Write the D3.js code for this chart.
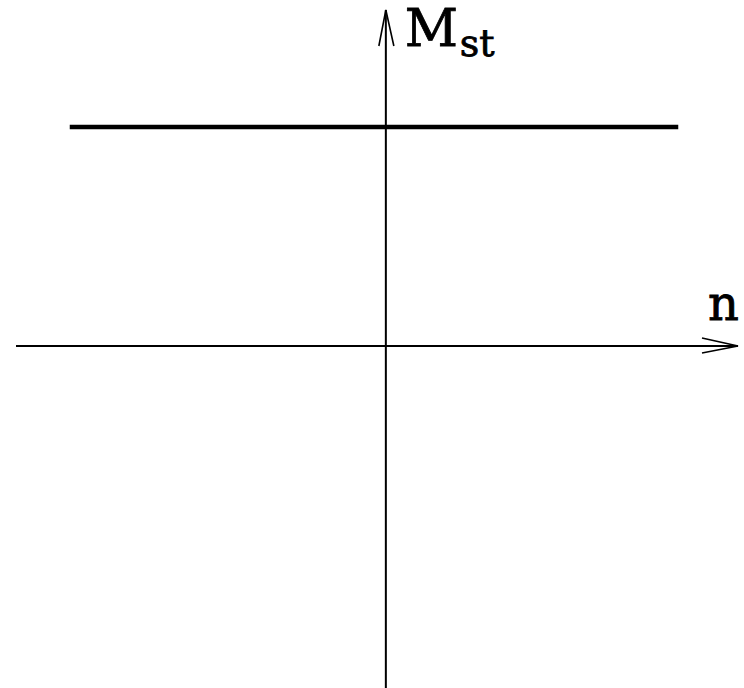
<!DOCTYPE html>
<html>
<head>
<meta charset="utf-8">
<script src="https://cdn.jsdelivr.net/npm/d3@7"></script>
<style>
  html, body { margin: 0; padding: 0; background: #fff; overflow: hidden; }
  svg { display: block; }
</style>
</head>
<body>
<svg id="chart" width="744" height="688"></svg>
<script>
// Extent of the n axis and the M_st axis (arbitrary units)
const nAxisExtent = [-1.17, 1.114];
const mAxisExtent = [-1.018, 1.0];

// Constant value of M_st over the plotted range of n
const levelN = [-1.0, 0.925];
const levelM = [0.652, 0.652];

// Axis labels
const nLabel = "n";
const mLabel = "M";
const mLabelSub = "st";

const serif = "'DejaVu Serif', serif";
const svg = d3.select("#chart");

const x = d3.scaleLinear().domain(nAxisExtent).range([16, 738]);
const y = d3.scaleLinear().domain(mAxisExtent).range([688, 10]);

const line = d3.line().x(d => x(d[0])).y(d => y(d[1]));

// horizontal (n) axis
svg.append("path")
  .attr("d", line([[nAxisExtent[0], 0], [nAxisExtent[1], 0]]))
  .attr("stroke", "#000").attr("stroke-width", 2).attr("fill", "none");

// arrowhead on the n axis
const nTip = [x(nAxisExtent[1]), y(0)];
svg.append("path")
  .attr("d", `M${nTip[0] - 36},${nTip[1] - 8} L${nTip[0]},${nTip[1]} L${nTip[0] - 36},${nTip[1] + 7}`)
  .attr("stroke", "#000").attr("stroke-width", 1.6).attr("fill", "none");

// vertical (M_st) axis
svg.append("path")
  .attr("d", line([[0, mAxisExtent[0]], [0, mAxisExtent[1]]]))
  .attr("stroke", "#000").attr("stroke-width", 2).attr("fill", "none");

// arrowhead on the M_st axis
const mTip = [x(0), y(mAxisExtent[1])];
svg.append("path")
  .attr("d", `M${mTip[0] - 7},${mTip[1] + 36} L${mTip[0]},${mTip[1]} L${mTip[0] + 8},${mTip[1] + 36}`)
  .attr("stroke", "#000").attr("stroke-width", 1.6).attr("fill", "none");

// the constant M_st line
svg.append("path")
  .attr("d", line(levelN.map((n, i) => [n, levelM[i]])))
  .attr("stroke", "#000").attr("stroke-width", 4.5).attr("fill", "none");

// axis labels (a thin outline gives the glyphs a heavier weight)
function label(txt, px, py, size) {
  svg.append("text")
    .attr("x", px).attr("y", py)
    .attr("font-family", serif)
    .attr("font-size", size)
    .attr("fill", "#000")
    .attr("stroke", "#000")
    .attr("stroke-width", 0.8)
    .text(txt);
}

label(nLabel, x(nAxisExtent[1]) - 30, y(0) - 26, 48);
label(mLabel, x(0) + 19, 46, 52);
label(mLabelSub, x(0) + 74, 56, 38);
</script>
</body>
</html>
